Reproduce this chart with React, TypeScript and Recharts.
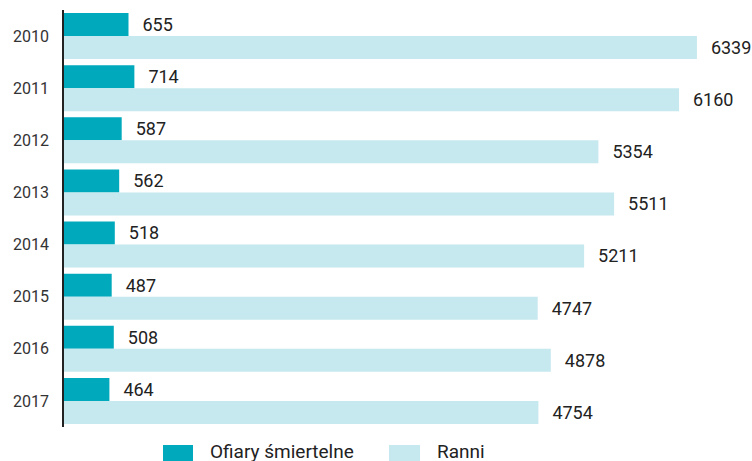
import React from "react";
import { BarChart, Bar, XAxis, YAxis, LabelList, Legend } from "recharts";

const years = ["2010", "2011", "2012", "2013", "2014", "2015", "2016", "2017"];
const fatalities = [655, 714, 587, 562, 518, 487, 508, 464];
const injured = [6339, 6160, 5354, 5511, 5211, 4747, 4878, 4754];

const data = years.map((y, i) => ({ year: y, fatal: fatalities[i], injured: injured[i] }));

const DARK = "#00A9BC";
const LIGHT = "#C6E8EF";
const FONT = "Roboto, 'Noto Sans', sans-serif";

const LegendContent = () => (
  <div style={{ position: "relative", height: 34, fontFamily: FONT, fontSize: 19, color: "#222" }}>
    <div style={{ position: "absolute", left: 163, top: 18, width: 30, height: 20, background: DARK }} />
    <div style={{ position: "absolute", left: 210, top: 14, lineHeight: "22px", whiteSpace: "nowrap" }}>Ofiary śmiertelne</div>
    <div style={{ position: "absolute", left: 389, top: 18, width: 31, height: 20, background: LIGHT }} />
    <div style={{ position: "absolute", left: 437, top: 14, lineHeight: "22px", whiteSpace: "nowrap" }}>Ranni</div>
  </div>
);

export default function App() {
  return (
    <div style={{ width: 752, height: 461, overflow: "hidden", background: "#fff" }}>
      <style>{`body{margin:0}`}</style>
      <BarChart
        width={752}
        height={461}
        data={data}
        layout="vertical"
        margin={{ top: 10, right: 0, bottom: 0, left: 0 }}
        barCategoryGap={3}
        barGap={0}
      >
        <XAxis type="number" hide domain={[0, 6890]} />
        <YAxis
          type="category"
          dataKey="year"
          width={63}
          tickLine={false}
          tickSize={0}
          tickMargin={14}
          axisLine={{ stroke: "#222", strokeWidth: 2 }}
          tick={{ fill: "#333", fontSize: 16, fontFamily: FONT }}
        />
        <Legend verticalAlign="bottom" height={34} content={<LegendContent />} />
        <Bar dataKey="fatal" fill={DARK} isAnimationActive={false}>
          <LabelList dataKey="fatal" position="right" offset={14} fill="#222" fontSize={18} fontFamily={FONT} />
        </Bar>
        <Bar dataKey="injured" fill={LIGHT} isAnimationActive={false}>
          <LabelList dataKey="injured" position="right" offset={14} fill="#222" fontSize={18} fontFamily={FONT} />
        </Bar>
      </BarChart>
    </div>
  );
}
